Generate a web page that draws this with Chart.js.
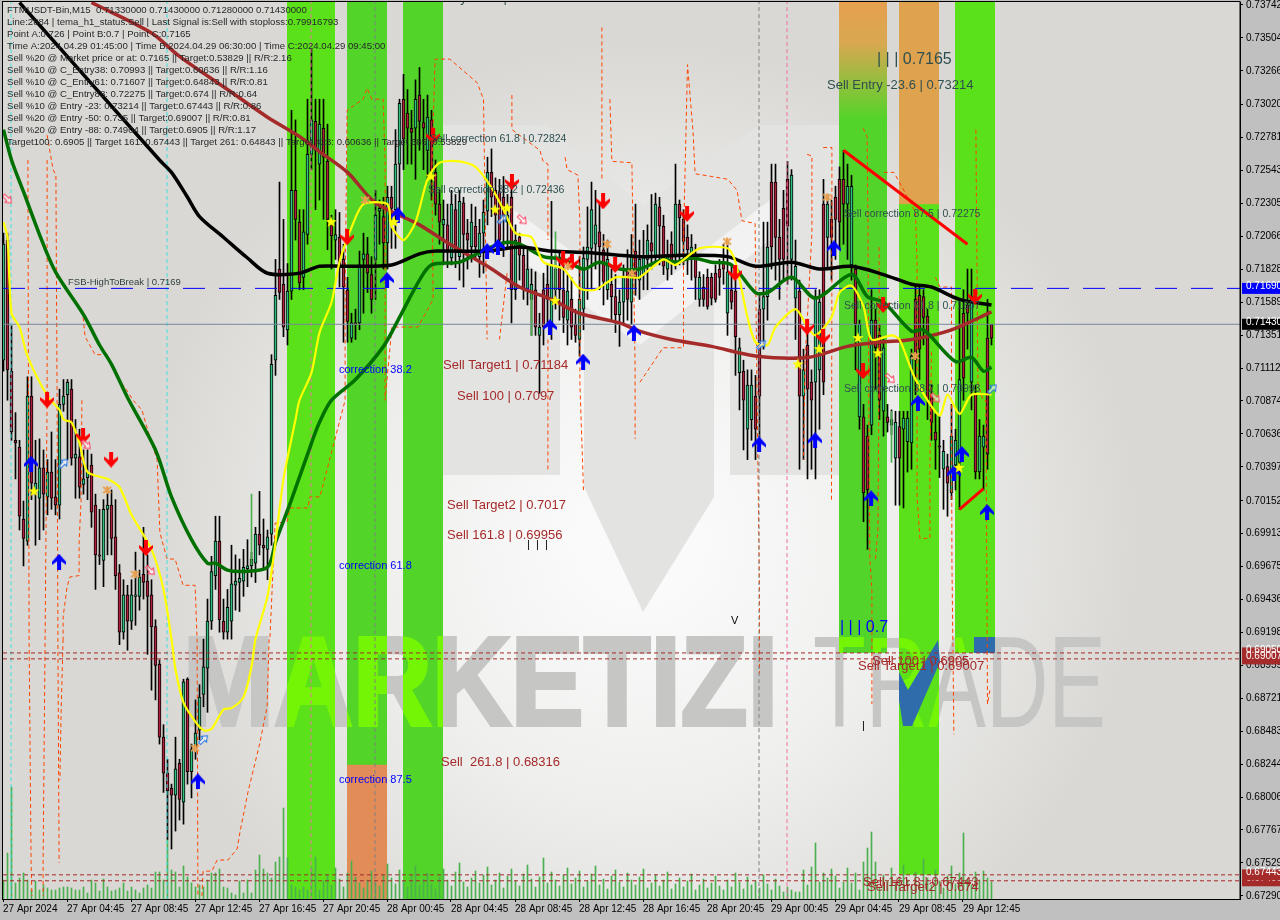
<!DOCTYPE html>
<html>
<head>
<meta charset="utf-8">
<title>FTMUSDT M15</title>
<script src="https://cdn.jsdelivr.net/npm/chart.js@4"></script>
<style>
  html, body { margin: 0; padding: 0; background: #c0c0c0; overflow: hidden; }
  #chart { display: block; }
</style>
</head>
<body>
<canvas id="chart" width="1280" height="920"></canvas>
<script>
// candles, one entry per 15 minute bar
const bodyTop = [.7201,.7204,.7109,.7059,.7054,.7002,.7091,.7091,.7028,.7039,.7039,.7036,.7036,.7018,.7085,.7091,.7101,.7096,.7049,.7047,.7031,.7036,.7041,.7012,.6976,.7009,.7012,.7012,.6989,.6963,.6947,.6947,.6947,.6947,.6960,.6962,.6957,.6947,.6924,.6897,.6844,.6818,.6807,.6821,.6825,.6884,.6886,.6835,.6847,.6873,.6895,.6928,.6964,.6986,.6986,.6928,.6938,.6955,.6957,.6959,.6967,.6968,.6973,.6991,.6991,.6983,.6989,.7114,.7164,.7183,.7172,.7167,.7240,.7240,.7217,.7210,.7266,.7291,.7290,.7288,.7285,.7261,.7215,.7208,.7206,.7190,.7168,.7144,.7144,.7186,.7194,.7194,.7179,.7222,.7227,.7221,.7235,.7235,.7259,.7303,.7306,.7296,.7285,.7306,.7309,.7289,.7293,.7291,.7253,.7230,.7219,.7215,.7230,.7226,.7232,.7231,.7209,.7217,.7214,.7209,.7224,.7253,.7253,.7240,.7239,.7235,.7222,.7235,.7204,.7206,.7193,.7183,.7172,.7168,.7141,.7168,.7172,.7186,.7183,.7184,.7168,.7167,.7161,.7143,.7161,.7191,.7199,.7226,.7215,.7210,.7197,.7190,.7172,.7163,.7159,.7177,.7183,.7193,.7196,.7190,.7193,.7204,.7202,.7230,.7228,.7214,.7193,.7201,.7230,.7230,.7219,.7206,.7199,.7192,.7177,.7170,.7177,.7177,.7180,.7183,.7188,.7181,.7168,.7167,.7126,.7109,.7099,.7099,.7091,.7154,.7163,.7199,.7246,.7246,.7206,.7227,.7248,.7251,.7185,.7167,.7110,.7128,.7101,.7162,.7159,.7230,.7230,.7219,.7235,.7248,.7248,.7243,.7243,.7183,.7143,.7076,.7062,.7146,.7146,.7135,.7126,.7076,.7074,.7072,.7069,.7075,.7075,.7120,.7161,.7164,.7163,.7149,.7092,.7065,.7055,.7051,.7040,.7062,.7059,.7103,.7151,.7157,.7163,.7093,.7062,.7062,.7133,.7143]
const bodyBottom = [.7117,.7110,.7065,.7057,.7004,.6988,.6986,.7028,.7023,.7017,.7020,.7018,.7017,.7012,.7012,.7085,.7092,.7046,.7046,.7025,.7027,.7032,.7007,.6976,.6975,.6972,.7009,.6988,.6961,.6920,.6920,.6928,.6928,.6946,.6946,.6956,.6946,.6924,.6896,.6844,.6818,.6805,.6802,.6802,.6799,.6797,.6819,.6819,.6836,.6849,.6875,.6894,.6928,.6961,.6929,.6920,.6920,.6928,.6954,.6956,.6957,.6966,.6968,.6970,.6983,.6981,.6980,.6991,.7117,.7166,.7141,.7139,.7167,.7219,.7173,.7177,.7208,.7266,.7269,.7259,.7264,.7219,.7207,.7204,.7185,.7170,.7145,.7133,.7143,.7144,.7190,.7180,.7161,.7190,.7225,.7202,.7202,.7227,.7226,.7259,.7277,.7285,.7282,.7285,.7290,.7285,.7269,.7253,.7230,.7217,.7215,.7197,.7191,.7197,.7192,.7208,.7204,.7199,.7199,.7192,.7209,.7225,.7235,.7222,.7204,.7221,.7217,.7168,.7168,.7193,.7169,.7168,.7161,.7141,.7135,.7141,.7161,.7141,.7168,.7168,.7148,.7146,.7141,.7135,.7132,.7154,.7190,.7198,.7201,.7199,.7174,.7168,.7163,.7150,.7150,.7159,.7161,.7159,.7177,.7175,.7179,.7190,.7196,.7192,.7214,.7185,.7183,.7188,.7192,.7220,.7203,.7197,.7190,.7177,.7161,.7161,.7156,.7162,.7161,.7177,.7183,.7151,.7159,.7134,.7108,.7088,.7067,.7074,.7067,.7091,.7154,.7163,.7199,.7206,.7190,.7190,.7214,.7190,.7162,.7091,.7091,.7096,.7088,.7101,.7110,.7101,.7206,.7206,.7219,.7217,.7230,.7230,.7186,.7143,.7076,.7021,.7023,.7070,.7126,.7088,.7080,.7072,.7070,.7046,.7046,.7067,.7058,.7057,.7117,.7125,.7148,.7088,.7072,.7059,.7054,.7038,.7028,.7021,.7041,.7043,.7104,.7151,.7101,.7036,.7036,.7054,.7049,.7133]
const wickHigh = [.7209,.7209,.7142,.7079,.7059,.7015,.7105,.7105,.7059,.7060,.7052,.7045,.7065,.7045,.7096,.7103,.7103,.7103,.7074,.7067,.7052,.7052,.7049,.7020,.7009,.7016,.7023,.7023,.7016,.6969,.6958,.6954,.6958,.6978,.6965,.6996,.6976,.6958,.6929,.6900,.6853,.6828,.6810,.6844,.6828,.6886,.6887,.6839,.6871,.6882,.6915,.6944,.6975,.7004,.7004,.6944,.6951,.6983,.6976,.6973,.6980,.6987,.6978,.6996,.7022,.7002,.6994,.7121,.7190,.7246,.7219,.7187,.7298,.7291,.7226,.7226,.7306,.7342,.7306,.7306,.7306,.7288,.7222,.7226,.7224,.7201,.7177,.7151,.7154,.7196,.7209,.7206,.7192,.7240,.7233,.7235,.7243,.7243,.7284,.7306,.7324,.7313,.7298,.7320,.7329,.7306,.7309,.7298,.7262,.7240,.7233,.7230,.7240,.7237,.7240,.7235,.7219,.7230,.7228,.7219,.7233,.7264,.7270,.7249,.7248,.7250,.7237,.7246,.7215,.7209,.7199,.7197,.7183,.7181,.7151,.7180,.7186,.7232,.7193,.7195,.7195,.7179,.7177,.7154,.7192,.7199,.7228,.7246,.7240,.7230,.7208,.7204,.7183,.7179,.7168,.7186,.7197,.7208,.7230,.7204,.7211,.7215,.7237,.7238,.7235,.7222,.7204,.7210,.7259,.7233,.7226,.7215,.7208,.7201,.7181,.7179,.7183,.7180,.7186,.7190,.7201,.7204,.7186,.7175,.7133,.7117,.7110,.7110,.7106,.7164,.7217,.7217,.7259,.7259,.7219,.7240,.7261,.7255,.7204,.7175,.7125,.7146,.7110,.7168,.7168,.7248,.7237,.7233,.7243,.7257,.7269,.7259,.7251,.7186,.7146,.7085,.7070,.7168,.7154,.7143,.7132,.7085,.7081,.7080,.7080,.7080,.7080,.7125,.7172,.7172,.7168,.7154,.7099,.7078,.7076,.7059,.7049,.7085,.7067,.7161,.7168,.7183,.7183,.7099,.7074,.7070,.7161,.7143]
const wickLow = [.7109,.7088,.7059,.7031,.6994,.6968,.6983,.7016,.6983,.6987,.6994,.7005,.7009,.7005,.7002,.7080,.7045,.7041,.7017,.7017,.7020,.7016,.6996,.6951,.6969,.6953,.6976,.6976,.6951,.6911,.6915,.6907,.6922,.6925,.6936,.6944,.6904,.6878,.6871,.6839,.6804,.6770,.6763,.6776,.6784,.6781,.6810,.6800,.6828,.6842,.6866,.6862,.6922,.6951,.6920,.6915,.6915,.6915,.6936,.6935,.6946,.6953,.6960,.6956,.6976,.6965,.6958,.6983,.7106,.7161,.7134,.7128,.7161,.7204,.7168,.7168,.7201,.7255,.7226,.7233,.7219,.7197,.7183,.7190,.7170,.7130,.7130,.7130,.7132,.7139,.7151,.7166,.7151,.7161,.7201,.7183,.7183,.7198,.7198,.7222,.7255,.7259,.7259,.7248,.7269,.7255,.7248,.7233,.7222,.7201,.7186,.7184,.7186,.7184,.7175,.7170,.7183,.7188,.7191,.7177,.7180,.7215,.7221,.7202,.7197,.7192,.7197,.7144,.7161,.7175,.7161,.7157,.7135,.7135,.7093,.7128,.7143,.7132,.7154,.7146,.7137,.7128,.7132,.7130,.7120,.7139,.7161,.7168,.7183,.7168,.7157,.7161,.7146,.7137,.7127,.7143,.7146,.7143,.7164,.7161,.7168,.7168,.7183,.7186,.7186,.7179,.7175,.7179,.7183,.7186,.7186,.7179,.7175,.7161,.7156,.7156,.7154,.7157,.7159,.7164,.7172,.7135,.7154,.7106,.7081,.7052,.7045,.7059,.7045,.7052,.7125,.7146,.7183,.7175,.7161,.7175,.7172,.7175,.7132,.7038,.7045,.7031,.7038,.7031,.7067,.7092,.7183,.7175,.7190,.7197,.7201,.7190,.7175,.7110,.7067,.7000,.6980,.7063,.7096,.7074,.7062,.7065,.7063,.7012,.7012,.7010,.7036,.7038,.7092,.7103,.7128,.7074,.7059,.7038,.7032,.7009,.7004,.7016,.7023,.7009,.7088,.7125,.7081,.7031,.7031,.7023,.7038,.7128]
const candleDir = 'UDDDDDUDUUDUDDUUUDUDUUDDDUUDDDUDUUUDDDDDDDDUDUDUUUUUUUDDUUUUUUUUDDUUUDDUUDDUUUDUDDDUDDDUDUUDDUUDUDUUDDDUDDUDDDUDUDUDDUDUUUDDDDUDUDDUUDUDDUUDDUDDUUUUUDDUDDUUDUDUUUDUDDUDUDDDUDUDDDDDDUDDUDUUDDUUDDDDDUUDUDDUUDUDDDDUUDUDDUDDUDUUDUUUDDDDDDDUDUUUDDUDUU'
const tickVolume = [19,46,112,16,21,26,19,9,18,9,14,11,9,9,11,12,12,11,9,9,12,6,19,16,8,20,12,8,9,11,16,8,12,9,6,11,14,11,27,27,19,60,29,27,12,33,22,16,12,14,12,19,26,26,30,12,11,6,4,18,6,19,6,29,44,30,26,21,37,42,91,41,14,12,9,12,9,32,42,9,18,24,14,31,20,12,26,38,22,16,11,19,28,17,13,24,35,21,15,29,18,12,23,33,14,20,26,15,10,22,30,19,13,27,36,17,12,21,28,16,24,32,14,19,26,11,23,30,18,13,25,34,20,12,22,41,16,27,19,13,24,31,15,21,28,12,18,25,33,14,20,10,23,29,17,12,26,19,14,22,30,11,16,24,13,19,27,10,15,21,12,18,25,9,14,20,11,16,23,13,9,19,12,26,17,10,22,14,18,11,24,15,9,20,13,7,12,9,7,7,29,14,32,56,17,26,21,30,23,11,17,31,16,26,9,37,51,67,37,12,24,18,31,15,22,34,19,13,27,16,40,21,14,29,18,11,23,33,15,26,66,20,14,27,19,28,21,17]
const accentIdx = [62,132,138,222]
const accentLow = [.6969,.7135,.7168,.7043]
const accentHigh = [.7020,.7166,.7210,.7080]

// moving averages and the tema line
const blackIdx = [4,39,42,46,49,55,61,66,74,79,85,97,104,108,121,129,137,146,159,170,181,188,197,204,212,220,227,232,239,247]
const blackVal = [.7376,.7262,.7253,.7235,.7221,.7206,.7191,.7180,.7180,.7185,.7185,.7186,.7194,.7196,.7196,.7199,.7196,.7195,.7192,.7193,.7192,.7185,.7188,.7183,.7185,.7179,.7172,.7170,.7161,.7157]
const greenIdx = [0,2,5,9,13,20,24,27,31,38,42,47,51,53,56,60,66,68,72,77,79,82,88,95,99,104,107,114,119,125,129,135,140,145,149,154,159,165,168,172,177,182,188,191,197,203,212,216,220,227,230,238,242,245,247]
const greenVal = [.7284,.7262,.7239,.7208,.7181,.7150,.7128,.7114,.7090,.7052,.7018,.6987,.6970,.6970,.6965,.6964,.6967,.6985,.7016,.7057,.7072,.7088,.7103,.7127,.7148,.7175,.7186,.7188,.7195,.7202,.7201,.7192,.7190,.7183,.7188,.7183,.7183,.7190,.7188,.7191,.7188,.7186,.7166,.7166,.7177,.7162,.7179,.7163,.7159,.7138,.7139,.7116,.7119,.7109,.7112]
const brownIdx = [22,37,44,56,66,74,79,86,93,104,111,121,129,137,144,154,159,167,177,188,201,211,219,227,237,247]
const brownVal = [.7376,.7354,.7337,.7313,.7293,.7279,.7268,.7253,.7231,.7215,.7202,.7185,.7170,.7161,.7151,.7144,.7138,.7132,.7127,.7120,.7119,.7127,.7130,.7132,.7139,.7152]
const yellowIdx = [0,1,2,4,6,11,14,15,17,19,21,26,29,32,37,40,42,43,45,48,50,52,55,57,60,62,63,66,68,70,73,74,77,79,82,84,87,90,96,97,100,103,106,109,114,118,122,125,128,132,135,140,144,148,153,157,159,165,168,174,181,183,186,188,191,193,198,201,203,207,209,212,215,217,222,224,228,234,236,239,242,247]
const yellowVal = [.7217,.7206,.7151,.7141,.7120,.7091,.7081,.7074,.7072,.7057,.7036,.7031,.7025,.7005,.6980,.6951,.6915,.6893,.6869,.6855,.6849,.6850,.6864,.6865,.6873,.6895,.6915,.6946,.6985,.7031,.7074,.7088,.7108,.7137,.7159,.7188,.7213,.7230,.7230,.7214,.7204,.7217,.7248,.7260,.7261,.7257,.7242,.7226,.7209,.7206,.7188,.7183,.7169,.7168,.7177,.7177,.7177,.7190,.7186,.7198,.7198,.7188,.7148,.7130,.7128,.7141,.7154,.7141,.7135,.7148,.7166,.7171,.7156,.7132,.7135,.7132,.7103,.7077,.7092,.7078,.7092,.7092]
const orangeIdx = [6.1,6.4,6.9,7.1,null,10.9,10.9,10.4,9.9,9.9,null,10.9,12.4,13.1,13.4,13.6,13.9,null,14.9,14.4,14.1,null,19.6,19.4,18.9,18.9,16.6,15.9,14.9,14.9,null,19.9,20.4,22.9,25.9,28.4,31.1,32.4,34.6,36.6,38.4,39.1,40.9,42.9,44.9,47.9,48.4,48.6,null,49.6,49.9,52.1,53.4,56.1,58.4,59.1,61.1,64.1,65.9,66.4,66.6,67.9,70.9,71.6,76.1,76.6,79.1,85.4,85.4,85.9,89.9,90.9,92.1,94.9,95.4,95.4,97.1,103.6,107.4,107.1,107.9,111.6,118.4,120,120.9,null,125.9,124,null,127.1,127.1,134.1,134.9,136.1,136.1,null,136.1,136.1,null,140.4,140.9,143.6,144.1,144.1,145,null,149.6,149.6,null,151.6,152.1,157.1,157.9,157.9,null,159.1,164.9,170,170,171,172.4,172.9,177.1,181.1,183.4,184.6,187.9,188.4,189,189,null,200.9,202.1,202.1,200.4,200,null,204.9,207.1,207.1,207,null,214.9,215.9,216.1,216.4,216.6,217.1,217.1,null,218,218.6,218.9,218.9,null,220.1,222.6,225.1,228,228.4,228.4,229.1,231.6,231.6,232,null,233,234.1,237,237,237.1,237.6,null,243.1,243.6,244.9,245.6,246,246.6]
const orangeVal = [.7262,.6915,.6753,.6729,null,.7262,.7088,.6915,.6753,.6729,null,.7280,.7255,.7251,.7088,.6915,.6753,null,.6915,.6862,.6813,null,.7088,.7016,.6985,.6961,.6960,.6953,.6931,.6915,null,.7148,.7134,.7121,.7121,.7105,.7094,.7088,.7081,.7061,.7045,.6992,.6973,.6973,.6954,.6954,.6915,.6729,null,.6729,.6747,.6747,.6755,.6755,.6763,.6775,.6804,.6840,.6866,.6915,.6915,.6999,.7000,.7010,.7010,.7018,.7018,.7088,.7161,.7298,.7306,.7314,.7306,.7306,.7262,.7088,.7141,.7141,.7161,.7257,.7335,.7335,.7318,.7306,.7132,null,.7180,.7132,null,.7309,.7284,.7269,.7261,.7259,.7204,null,.7132,.7038,null,.7264,.7255,.7251,.7217,.7100,.7023,null,.7358,.7248,null,.7306,.7261,.7260,.7112,.7060,null,.7101,.7126,.7126,.7204,.7331,.7282,.7252,.7250,.7248,.7240,.7218,.7216,.7088,.6950,.6890,null,.7266,.7265,.7209,.7117,.7045,null,.7271,.7271,.7185,.7016,null,.7285,.7279,.7221,.7040,.6973,.6950,.6868,null,.6973,.6994,.7112,.7200,null,.7253,.7253,.7240,.7224,.7185,.7018,.6988,.6988,.7040,.7125,null,.7177,.7170,.7170,.7095,.6973,.6846,null,.7284,.7100,.7088,.7088,.6868,.6878]

// trend lines between swing points
const fallIdx = [210,241]
const fallVal = [.7269,.7201]
const riseIdx = [239,245]
const riseVal = [.7009,.7024]

// signal markers
const blueUpIdx = [6.9,13.9,48.6,95.9,98.6,120.9,123.6,136.6,144.9,157.6,188.9,202.9,207.6,216.9,228.6,239.6,237.6,245.9]
const blueUpVal = [.7042,.6971,.6812,.7175,.7222,.7196,.7199,.7141,.7116,.7137,.7056,.7059,.7198,.7017,.7086,.7049,.7035,.7007]
const redDownIdx = [10.9,19.9,26.9,35.6,85.9,107.4,127.1,139.9,142.1,149.9,152.9,170.9,182.9,200.9,204.9,214.9,219.9,242.9]
const redDownVal = [.7088,.7062,.7045,.6981,.7206,.7279,.7246,.7190,.7188,.7232,.7186,.7223,.7180,.7141,.7134,.7109,.7157,.7163]
const starIdx = [7.6,81.9,97.6,106.9,122.9,125.9,137.9,198.6,203.9,213.6,218.6,238.9]
const starVal = [.7022,.7217,.7217,.7250,.7226,.7227,.7160,.7114,.7125,.7133,.7122,.7039]
const crossIdx = [25.9,32.9,47.9,90.4,150.9,141.1,157.1,180.9,205.9,227.9]
const crossVal = [.7023,.6962,.6836,.7233,.7201,.7185,.7180,.7203,.7235,.7120]
const pinkIdx = [.9,20.6,36.6,129.6,221.6,232.9]
const pinkVal = [.7234,.7056,.6965,.7219,.7104,.7090]
const hollowIdx = [14.9,49.9,124.6,189.4,247.1]
const hollowVal = [.7042,.6842,.7219,.7128,.7096]

// levels, session bands and vertical markers
const breakLevel = .7169
const lastPrice = .7143
const targetLevels = [.6905,.69007,.67443,.674]
const cyanBars = [2,41]
const greyBars = [93,189]
const pinkBars = [77,196]
const bandStart = [71,86,100,209,224,238]
const bandEnd = [83,96,110,221,234,248]
const bandLow = [.6726,.6726,.6726,.6905,.67443,.6905]
const bandColor = ['#5be11a','#52d428','#52d428','#52d42a','#5be11a','#5be11a']
const orangeStart = [86,224]
const orangeEnd = [96,234]
const orangeHigh = [.6824,.7378]
const orangeLow = [.6726,.7230]

// axis labels
const priceTicks = [.737428,.735044,.73266,.730203,.727819,.725433,.72305,.720666,.718283,.715899,.713513,.711129,.708745,.706361,.703978,.70152,.699134,.696751,.694367,.691983,.689599,.687214,.684830,.682446,.680062,.677678,.675293,.672909]
const timeLabels = ['27 Apr 2024','27 Apr 04:45','27 Apr 08:45','27 Apr 12:45','27 Apr 16:45','27 Apr 20:45','28 Apr 00:45','28 Apr 04:45','28 Apr 08:45','28 Apr 12:45','28 Apr 16:45','28 Apr 20:45','29 Apr 00:45','29 Apr 04:45','29 Apr 08:45','29 Apr 12:45']

const infoLines = [
  'FTMUSDT-Bin,M15  0.71330000 0.71430000 0.71280000 0.71430000',
  'Line:2884 | tema_h1_status:Sell | Last Signal is:Sell with stoploss:0.79916793',
  'Point A:0.726 | Point B:0.7 | Point C:0.7165',
  'Time A:2024.04.29 01:45:00 | Time B:2024.04.29 06:30:00 | Time C:2024.04.29 09:45:00',
  'Sell %20 @ Market price or at: 0.7165 || Target:0.53829 || R/R:2.16',
  'Sell %10 @ C_Entry38: 0.70993 || Target:0.60636 || R/R:1.16',
  'Sell %10 @ C_Entry61: 0.71607 || Target:0.64843 || R/R:0.81',
  'Sell %10 @ C_Entry88: 0.72275 || Target:0.674 || R/R:0.64',
  'Sell %10 @ Entry -23: 0.73214 || Target:0.67443 || R/R:0.86',
  'Sell %20 @ Entry -50: 0.735 || Target:0.69007 || R/R:0.81',
  'Sell %20 @ Entry -88: 0.74904 || Target:0.6905 || R/R:1.17',
  'Target100: 0.6905 || Target 161: 0.67443 || Target 261: 0.64843 || Target 423: 0.60636 || Target 685: 0.53829'
]

const noteText = ['Sell Entry -23.6 | 0.73601','Sell correction 61.8 | 0.72824','Sell correction 38.2 | 0.72436','Sell Entry -23.6 | 0.73214','Sell correction 87.5 | 0.72275','Sell correction 61.8 | 0.71607','Sell correction 38.2 | 0.70993','FSB-HighToBreak | 0.7169','correction 38.2','correction 61.8','correction 87.5','Sell Target1 | 0.71184','Sell 100 | 0.7097','Sell Target2 | 0.7017','Sell 161.8 | 0.69956','Sell  261.8 | 0.68316','Sell 100 | 0.6905','Sell Target1 | 0.69007','Sell 161.8 | 0.67443','Sell Target2 | 0.674','| | | 0.7165','| | | 0.7','|  |  |','V','|']
const noteIdx = [102,106.75,106.25,206,210.25,210.25,210.25,16.25,84,84,84,110,113.5,111,111,109.5,217.25,213.75,215,216,218.5,209.25,131,182,214.75]
const noteVal = [.7379,.7277,.7240,.7316,.7223,.7156,.7096,.7173,.7110,.6968,.6813,.7113,.7091,.7012,.6990,.6826,.6899,.6895,.6739,.6735,.7335,.6923,.6983,.6928,.6852]
const noteKind = ['big','grey','grey','big','grey','grey','grey','small','blue','blue','blue','red','red','red','red','red','red','red','red','red','mark','markBlue','tick','tick','tick']
const noteStyle = {
  grey: ['10.5px "Liberation Sans"', '#2f4f4f'],
  big: ['13px "Liberation Sans"', '#2f4f4f'],
  small: ['9.5px "Liberation Sans"', '#2f3f3f'],
  blue: ['11px "Liberation Sans"', '#0000ff'],
  red: ['13px "Liberation Sans"', '#a52a2a'],
  mark: ['16px "Liberation Sans"', '#2f4f4f'],
  markBlue: ['16px "Liberation Sans"', '#0000ff'],
  tick: ['11px "Liberation Sans"', '#000']
}

const PAD = 0.125 // bars sit half a pixel right of the tick
const pts = (xs, ys) => xs.map((x, i) => (x === null ? { x: null, y: null } : { x: x + PAD, y: ys[i] }))
const bars = (lo, hi) => lo.map((v, i) => ({ x: i + PAD, y: [v, hi[i]] }))

// marker sprites
function sprite(w, h, draw) {
  const c = document.createElement('canvas')
  c.width = w
  c.height = h
  draw(c.getContext('2d'))
  return c
}
function arrowPath(g) {
  g.beginPath()
  g.moveTo(7, 0); g.lineTo(14, 8); g.lineTo(14, 11); g.lineTo(9, 7.5); g.lineTo(9, 16)
  g.lineTo(5, 16); g.lineTo(5, 7.5); g.lineTo(0, 11); g.lineTo(0, 8)
  g.closePath()
}
const blueArrow = sprite(14, 16, g => { arrowPath(g); g.fillStyle = '#0000ff'; g.fill() })
const redArrow = sprite(14, 16, g => { g.translate(0, 16); g.scale(1, -1); arrowPath(g); g.fillStyle = '#ff0000'; g.fill() })
const starMark = sprite(12, 12, g => {
  g.fillStyle = '#ffff00'
  g.beginPath()
  for (let k = 0; k < 10; k++) {
    const r = k % 2 ? 2.4 : 6
    const a = -Math.PI / 2 + k * Math.PI / 5
    g.lineTo(6 + r * Math.cos(a), 6 + r * Math.sin(a))
  }
  g.closePath()
  g.fill()
})
const crossMark = sprite(10, 10, g => {
  g.strokeStyle = '#e8a050'
  g.lineWidth = 2
  g.beginPath()
  g.moveTo(1, 2); g.lineTo(9, 8); g.moveTo(9, 2); g.lineTo(1, 8); g.moveTo(5, 1); g.lineTo(5, 9)
  g.stroke()
})
function hollow(color, flip) {
  return sprite(12, 12, g => {
    g.translate(6, 6)
    g.rotate(flip ? Math.PI * 0.75 : Math.PI * 0.25)
    g.strokeStyle = color
    g.lineWidth = 1
    g.fillStyle = 'rgba(255,255,255,.6)'
    g.beginPath()
    g.moveTo(0, -6); g.lineTo(4, -1); g.lineTo(1.5, -1); g.lineTo(1.5, 5); g.lineTo(-1.5, 5); g.lineTo(-1.5, -1); g.lineTo(-4, -1)
    g.closePath()
    g.fill()
    g.stroke()
  })
}
const pinkArrow = hollow('#ff4060', true)
const blueHollow = hollow('#2070e0', false)

function lineSet(data, color, width, order, extra) {
  return Object.assign({
    type: 'line', data: data, borderColor: color, borderWidth: width, pointRadius: 0,
    order: order, tension: 0, spanGaps: false, borderCapStyle: 'butt', borderJoinStyle: 'round'
  }, extra || {})
}
function markSet(xs, ys, img, order) {
  return {
    type: 'line', data: pts(xs, ys), showLine: false, pointStyle: img, pointRadius: 6, order: order,
    backgroundColor: 'transparent', borderColor: 'transparent'
  }
}
function vertical(x, color, order) {
  return lineSet([{ x: x, y: .6726 }, { x: x, y: .7378 }], color, 1, order, { borderDash: [4, 3] })
}
function level(v, color, dash, order) {
  return lineSet([{ x: 0, y: v }, { x: 309.25, y: v }], color, 1, order, { borderDash: dash })
}

const datasets = [
  { type: 'bar', data: bars(wickLow, wickHigh), backgroundColor: '#000', barThickness: 1, order: 30, yAxisID: 'y' },
  {
    type: 'bar', data: bars(bodyBottom, bodyTop), barThickness: 3, order: 29, borderColor: '#000', borderWidth: 1, borderSkipped: false,
    backgroundColor: bodyTop.map((v, i) => (candleDir[i] === 'U' ? '#2fbf7f' : '#b0203c'))
  },
  { type: 'bar', data: tickVolume.map((v, i) => ({ x: i + PAD, y: v })), backgroundColor: '#4caf50', barThickness: 1, order: 31, yAxisID: 'yVol' },
  { type: 'bar', data: accentIdx.map((x, i) => ({ x: x + PAD, y: [accentLow[i], accentHigh[i]] })), backgroundColor: '#4caf50', barThickness: 1, order: 28 },
  lineSet(pts(orangeIdx, orangeVal), '#ff4500', 1, 27, { borderDash: [4, 3] }),
  level(breakLevel, '#0000ff', [22, 14], 26),
  level(lastPrice, '#778899', [], 26)
]
targetLevels.forEach(v => datasets.push(level(v, '#a52a2a', [4, 3], 26)))
cyanBars.forEach(x => datasets.push(vertical(x, '#40e0e0', 26)))
greyBars.forEach(x => datasets.push(vertical(x, '#808080', 26)))
pinkBars.forEach(x => datasets.push(vertical(x, '#f070a0', 26)))
datasets.push(
  lineSet(pts(brownIdx, brownVal), '#a52a2a', 3.5, 12, { tension: .3 }),
  lineSet(pts(greenIdx, greenVal), '#007000', 3.5, 11, { tension: .3 }),
  lineSet(pts(blackIdx, blackVal), '#000', 3.5, 10, { tension: .3 }),
  lineSet(pts(yellowIdx, yellowVal), '#ffff00', 2.2, 9, { tension: .25 }),
  lineSet(pts(fallIdx, fallVal), '#ff0000', 3, 8),
  lineSet(pts(riseIdx, riseVal), '#ff0000', 3, 8),
  markSet(blueUpIdx, blueUpVal, blueArrow, 5),
  markSet(redDownIdx, redDownVal, redArrow, 5),
  markSet(starIdx, starVal, starMark, 4),
  markSet(crossIdx, crossVal, crossMark, 4),
  markSet(pinkIdx, pinkVal, pinkArrow, 4),
  markSet(hollowIdx, hollowVal, blueHollow, 4)
)

function watermark(g, fill) {
  g.fillStyle = fill
  g.strokeStyle = fill
  g.textBaseline = 'alphabetic'
  g.textAlign = 'left'
  g.font = 'bold 126px "Liberation Sans"'
  g.lineWidth = 4
  g.lineJoin = 'miter'
  g.fillText('MARKETIZI', 183, 725, 595)
  g.strokeText('MARKETIZI', 183, 725, 595)
  g.font = '129px "Liberation Sans"'
  g.fillText('TRADE', 813, 727, 293)
}

const backdrop = {
  id: 'backdrop',
  beforeDraw(chart) {
    const g = chart.ctx
    const a = chart.chartArea
    g.save()
    g.fillStyle = '#c0c0c0'
    g.fillRect(0, 0, 1280, 920)
    const sky = g.createRadialGradient(640, 540, 60, 640, 540, 500)
    sky.addColorStop(0, '#fafafa')
    sky.addColorStop(.45, '#efefee')
    sky.addColorStop(1, '#d9d8d4')
    g.fillStyle = sky
    g.fillRect(a.left, a.top, a.width, a.height)
    // big logo behind the candles
    g.fillStyle = '#e3e3e2'
    g.beginPath()
    g.moveTo(440, 125); g.lineTo(545, 125); g.lineTo(643, 205); g.lineTo(760, 125); g.lineTo(840, 125)
    g.lineTo(840, 475); g.lineTo(730, 475); g.lineTo(730, 240); g.lineTo(714, 250); g.lineTo(714, 497)
    g.lineTo(643, 612); g.lineTo(584, 487); g.lineTo(584, 290); g.lineTo(560, 270); g.lineTo(560, 475)
    g.lineTo(440, 475)
    g.closePath()
    g.fill()
    g.fillStyle = 'rgba(255,255,255,.55)'
    g.beginPath()
    g.moveTo(500, 200); g.lineTo(640, 300); g.lineTo(770, 200); g.lineTo(770, 240); g.lineTo(640, 345); g.lineTo(500, 245)
    g.closePath()
    g.fill()
    watermark(g, '#c6c6c5')
    g.restore()
  },
  beforeDatasetsDraw(chart) {
    const g = chart.ctx
    const x = chart.scales.x
    const y = chart.scales.y
    const a = chart.chartArea
    g.save()
    g.beginPath()
    g.rect(a.left, a.top, a.width, a.height)
    g.clip()
    bandStart.forEach((s, k) => {
      const l = x.getPixelForValue(s)
      const r = x.getPixelForValue(bandEnd[k])
      g.fillStyle = bandColor[k]
      g.fillRect(l, a.top, r - l, y.getPixelForValue(bandLow[k]) - a.top)
    })
    orangeStart.forEach((s, k) => {
      const l = x.getPixelForValue(s)
      const r = x.getPixelForValue(orangeEnd[k])
      const t = y.getPixelForValue(orangeHigh[k])
      g.fillStyle = k === 0 ? '#e28c58' : '#dfa24f'
      g.fillRect(l, t, r - l, y.getPixelForValue(orangeLow[k]) - t)
    })
    // fourth band fades from orange into green near its top
    const fade = g.createLinearGradient(0, a.top, 0, y.getPixelForValue(.7291))
    fade.addColorStop(0, '#e6a050')
    fade.addColorStop(.35, '#d8a850')
    fade.addColorStop(1, '#52d42a')
    g.fillStyle = fade
    const fl = x.getPixelForValue(209)
    g.fillRect(fl, a.top, x.getPixelForValue(221) - fl, y.getPixelForValue(.7291) - a.top)
    // watermark turns bright where it crosses a band
    g.save()
    g.beginPath()
    bandStart.forEach((s, k) => {
      const l = x.getPixelForValue(s)
      const r = x.getPixelForValue(bandEnd[k])
      g.rect(l, a.top, r - l, y.getPixelForValue(bandLow[k]) - a.top)
    })
    g.clip()
    watermark(g, '#73f505')
    g.restore()
    // tick of the logo
    g.fillStyle = '#2f6cab'
    g.beginPath()
    g.moveTo(899, 672); g.lineTo(908, 690); g.lineTo(938, 640); g.lineTo(940, 662); g.lineTo(912, 726); g.lineTo(903, 726); g.lineTo(899, 700)
    g.closePath()
    g.fill()
    g.fillRect(974, 637, 21, 16)
    g.restore()
  },
  afterDatasetsDraw(chart) {
    const g = chart.ctx
    const x = chart.scales.x
    const y = chart.scales.y
    const a = chart.chartArea
    g.save()
    g.beginPath()
    g.rect(a.left, a.top, a.width, a.height)
    g.clip()
    g.textAlign = 'left'
    g.textBaseline = 'middle'
    noteText.forEach((t, k) => {
      const s = noteStyle[noteKind[k]]
      g.font = s[0]
      g.fillStyle = s[1]
      g.fillText(t, x.getPixelForValue(noteIdx[k]), y.getPixelForValue(noteVal[k]))
    })
    g.font = '9.6px "Liberation Sans"'
    g.fillStyle = '#26282a'
    infoLines.forEach((t, k) => g.fillText(t, 7, 10 + k * 12))
    g.restore()
    // plot frame
    g.strokeStyle = '#000'
    g.lineWidth = 1
    g.strokeRect(2.5, a.top - .5, a.right - 2.5, a.bottom - a.top + 1)
    // price tags on the axis
    const tags = [[.7169, '#0000ff', '#fff'], [.7143, '#000', '#fff'], [.6905, '#a52a2a', '#fff'], [.69007, '#a52a2a', '#fff'], [.674, '#a52a2a', '#fff'], [.67443, '#a52a2a', '#fff']]
    g.font = '10px "Liberation Sans"'
    tags.forEach(t => {
      const p = y.getPixelForValue(t[0])
      g.fillStyle = t[1]
      g.fillRect(1242, p - 5.5, 38, 11)
      g.fillStyle = t[2]
      g.fillText(t[0].toFixed(5), 1246, p + .5)
    })
  }
}

new Chart(document.getElementById('chart'), {
  type: 'bar',
  data: { datasets: datasets },
  plugins: [backdrop],
  options: {
    responsive: false,
    animation: false,
    devicePixelRatio: 1,
    parsing: { xAxisKey: 'x', yAxisKey: 'y' },
    layout: { autoPadding: false, padding: { left: 3, top: 2, right: 0, bottom: 0 } },
    plugins: { legend: { display: false }, tooltip: { enabled: false } },
    datasets: { bar: { grouped: false } },
    scales: {
      x: {
        type: 'linear', min: 0, max: 309.25, offset: false,
        afterFit(s) { s.height = 21; s.paddingLeft = 0; s.paddingRight = 0 },
        afterBuildTicks(s) { s.ticks = timeLabels.map((t, i) => ({ value: i * 16 })) },
        grid: { display: true, drawOnChartArea: false, drawTicks: true, tickLength: 3, color: '#000', offset: false },
        border: { color: '#000', width: 1 },
        ticks: {
          autoSkip: false, maxRotation: 0, minRotation: 0, align: 'start', padding: 1, color: '#000',
          font: { family: '"Liberation Sans"', size: 10 },
          callback: v => timeLabels[v / 16]
        }
      },
      y: {
        position: 'right', min: .67268, max: .73764,
        afterFit(s) { s.width = 40; s.paddingTop = 0; s.paddingBottom = 0 },
        afterBuildTicks(s) { s.ticks = priceTicks.map(v => ({ value: v })) },
        grid: { display: true, drawOnChartArea: false, drawTicks: true, tickLength: 3, color: '#000' },
        border: { color: '#000', width: 1 },
        ticks: {
          autoSkip: false, padding: 3, color: '#000', align: 'center',
          font: { family: '"Liberation Sans"', size: 10 },
          callback: v => v.toFixed(6)
        }
      },
      yVol: { display: false, min: 0, max: 897 }
    }
  }
})
</script>
</body>
</html>
